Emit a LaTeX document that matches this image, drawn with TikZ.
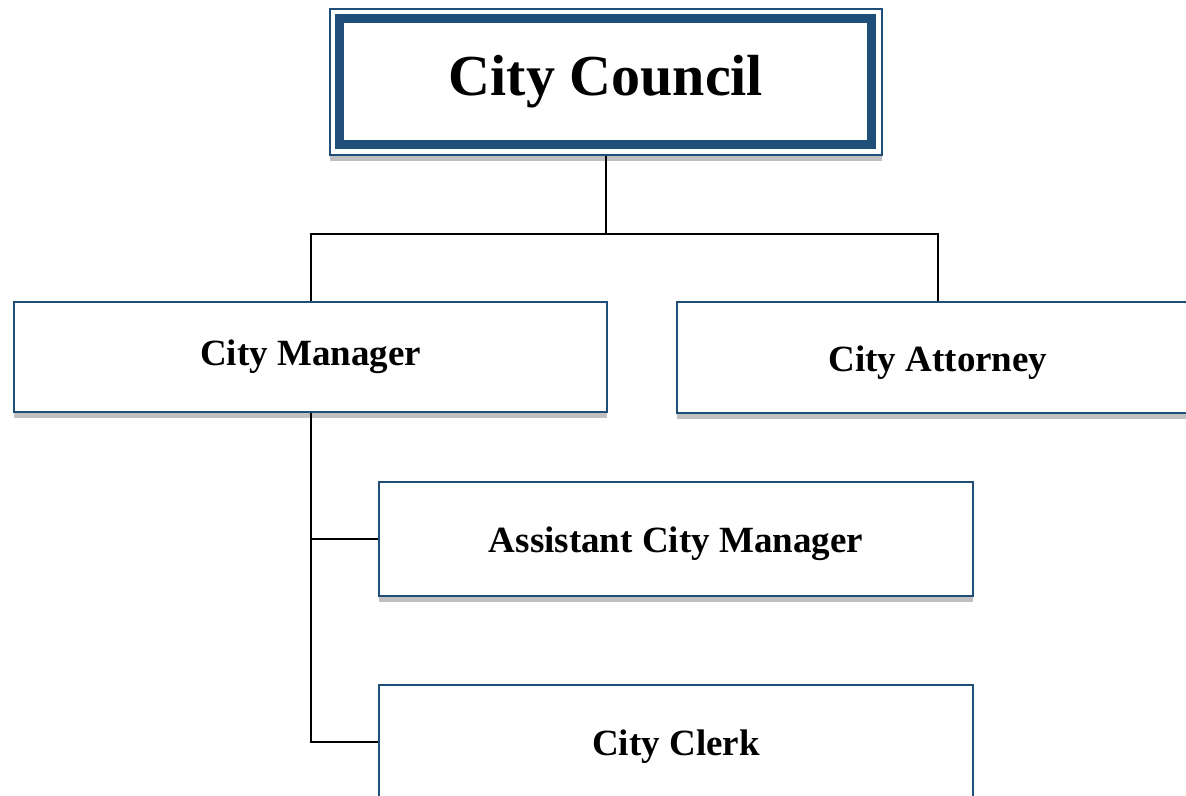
\documentclass[tikz,border=0pt]{standalone}
\usepackage{fontspec}
\setmainfont{Liberation Serif}
\usepackage{tikz}

\definecolor{boxblue}{RGB}{31,78,121}
\definecolor{shadowgray}{RGB}{192,192,192}

\tikzset{
  orgbox/.style={draw=boxblue, line width=1.2pt, fill=white,
    inner sep=0pt, font=\bfseries\fontsize{18.5}{22}\selectfont,
    preaction={fill=shadowgray, transform canvas={yshift=-3pt}}},
  lowtext/.style={text height=17.5pt, text depth=4pt},
  link/.style={line width=1pt, black}
}

\begin{document}
\begin{tikzpicture}[x=0.5pt,y=-0.5pt]
\useasboundingbox (0,0) rectangle (1186,796);

% Council
\node[orgbox, line width=0.8pt, minimum width=276pt, minimum height=73pt,
  font=\bfseries\fontsize{29}{34}\selectfont] (council) at (606,82) {City Council};
\draw[boxblue, line width=4.5pt]
  ([shift={(5pt,5.5pt)}]council.south west) rectangle ([shift={(-5.5pt,-5pt)}]council.north east);

% Direct reports
\node[orgbox, minimum width=296.5pt, minimum height=55pt] (manager) at (310.5,357) {City Manager};
\node[orgbox, lowtext, minimum width=261pt, minimum height=55.5pt] (attorney) at (938,357.5) {City Attorney};

% Under the manager
\node[orgbox, lowtext, minimum width=297pt, minimum height=57pt] (assistant) at (676,539) {Assistant City Manager};
\node[orgbox, lowtext, minimum width=297pt, minimum height=57pt] (clerk) at (676,742) {City Clerk};

% Lines
\coordinate (split) at (606,234);
\draw[link] (council.south) -- (split);
\draw[link] (manager.north) |- (split) -| (attorney.north);
\draw[link] (manager.south) |- (assistant.west);
\draw[link] (manager.south) |- (clerk.west);
\end{tikzpicture}
\end{document}
